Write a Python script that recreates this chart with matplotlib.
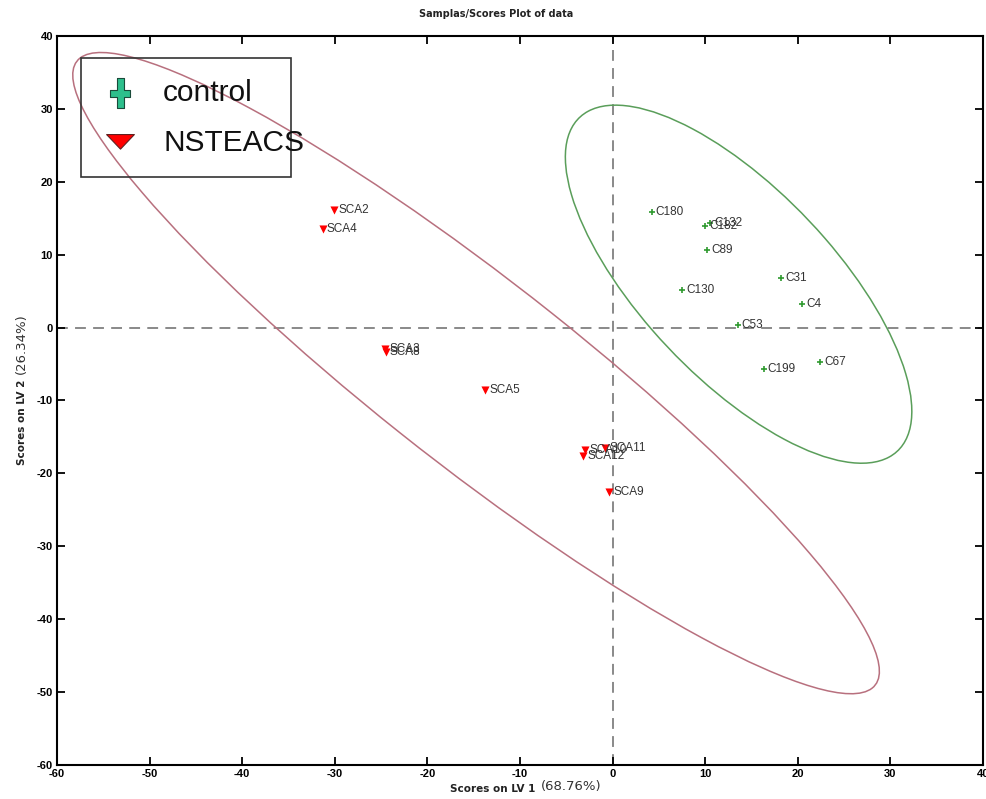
import matplotlib.pyplot as plt
from matplotlib.patches import Ellipse, Rectangle

plt.rcParams['axes.unicode_minus'] = False

# scores on LV1 / LV2
control_names = ["C180", "C132", "C182", "C89", "C31", "C130", "C4", "C53", "C199", "C67"]
control_x = [4.2, 10.5, 10.0, 10.2, 18.2, 7.5, 20.5, 13.5, 16.3, 22.4]
control_y = [15.9, 14.3, 13.9, 10.7, 6.8, 5.1, 3.2, 0.4, -5.7, -4.7]

case_names = ["SCA2", "SCA4", "SCA3", "SCA8", "SCA5", "SCA10", "SCA12", "SCA11", "SCA9"]
case_x = [-30.1, -31.3, -24.6, -24.5, -13.8, -3.0, -3.2, -0.8, -0.4]
case_y = [16.1, 13.5, -3.0, -3.4, -8.6, -16.8, -17.6, -16.5, -22.5]

# confidence ellipses: center x, center y, width, height, angle
control_ellipse = [13.6, 5.95, 57.5, 22.5, -55.6]
case_ellipse = [-14.75, -6.25, 121.6, 23.2, -45.3]

legend_labels = ["control", "NSTEACS"]

# legend marker shapes: tall cross and flat triangle
cross = [(-0.24, 1), (0.24, 1), (0.24, 0.24), (0.68, 0.24), (0.68, -0.24), (0.24, -0.24),
         (0.24, -1), (-0.24, -1), (-0.24, -0.24), (-0.68, -0.24), (-0.68, 0.24),
         (-0.24, 0.24), (-0.24, 1)]
flat_tri = [(-1, 0.5), (1, 0.5), (0, -0.55), (-1, 0.5)]

fig = plt.figure(figsize=(9.87, 7.99), dpi=100)
ax = fig.add_axes([0.0578, 0.0426, 0.9382, 0.9124])

ax.axhline(0, color="#808080", linestyle=(0, (6, 4)), linewidth=1.3, zorder=1)
ax.axvline(0, color="#808080", linestyle=(0, (6, 4)), linewidth=1.3, zorder=1)

cx, cy, w, h, a = control_ellipse
ax.add_patch(Ellipse((cx, cy), w, h, angle=a, fill=False, edgecolor="#5a9e5a", linewidth=1.1))
cx, cy, w, h, a = case_ellipse
ax.add_patch(Ellipse((cx, cy), w, h, angle=a, fill=False, edgecolor="#b8707e", linewidth=1.1))

ax.scatter(control_x, control_y, marker="+", s=22, color="#2f9a2f", linewidths=1.2, zorder=3)
ax.scatter(case_x, case_y, marker="v", s=34, color="#ff0000", linewidths=0, zorder=3)

for name, x, y in zip(control_names, control_x, control_y):
    ax.annotate(name, (x, y), xytext=(3, 0), textcoords="offset points", va="center",
                fontsize=8.5, color="#333333", family="Liberation Sans")
for name, x, y in zip(case_names, case_x, case_y):
    ax.annotate(name, (x, y), xytext=(3, 0), textcoords="offset points", va="center",
                fontsize=8.5, color="#333333", family="Liberation Sans")

ax.set_xlim(-60, 40)
ax.set_ylim(-60, 40)
ax.set_xticks(range(-60, 41, 10))
ax.set_yticks(range(-60, 41, 10))
ax.tick_params(direction="in", top=True, right=True, length=6, width=1.3,
               labelsize=8, pad=3)
for lab in ax.get_xticklabels() + ax.get_yticklabels():
    lab.set_fontweight("bold")
    lab.set_family("Liberation Sans")
for sp in ax.spines.values():
    sp.set_linewidth(1.5)

# legend drawn by hand: transparent frame, text runs past it as in the original
ax.add_patch(Rectangle((0.0259, 0.8066), 0.2268, 0.1632, transform=ax.transAxes,
                       facecolor="none", edgecolor="#333333", linewidth=1.2, zorder=4))
ax.plot([0.068], [0.922], transform=ax.transAxes, linestyle="none", marker=cross,
        markersize=21, markerfacecolor="#2dbf8c", markeredgecolor="#1a4a3a",
        markeredgewidth=0.8, zorder=5, clip_on=False)
ax.plot([0.068], [0.856], transform=ax.transAxes, linestyle="none", marker=flat_tri,
        markersize=20, markerfacecolor="#ff0000", markeredgecolor="#602020",
        markeredgewidth=0.8, zorder=5, clip_on=False)
for lbl, ty in zip(legend_labels, [0.922, 0.853]):
    ax.text(0.1145, ty, lbl, transform=ax.transAxes, fontsize=21.5, va="center",
            ha="left", family="Liberation Sans", color="#111111", zorder=5)

fig.text(0.503, 0.982, "Samplas/Scores Plot of data", ha="center", va="center",
         fontsize=7, fontweight="bold", color="#222222")

fig.text(0.542, 0.006, "Scores on LV 1", ha="right", va="bottom", fontsize=7.5,
         fontweight="bold", color="#222222")
fig.text(0.548, 0.008, "(68.76%)", ha="left", va="bottom", fontsize=9.5, color="#333333")
fig.text(0.022, 0.525, "Scores on LV 2", ha="center", va="top", rotation=90,
         fontsize=7.5, fontweight="bold", color="#222222")
fig.text(0.022, 0.532, "(26.34%)", ha="center", va="bottom", rotation=90,
         fontsize=9.5, color="#333333")

fig.savefig("out.png", dpi=100)
